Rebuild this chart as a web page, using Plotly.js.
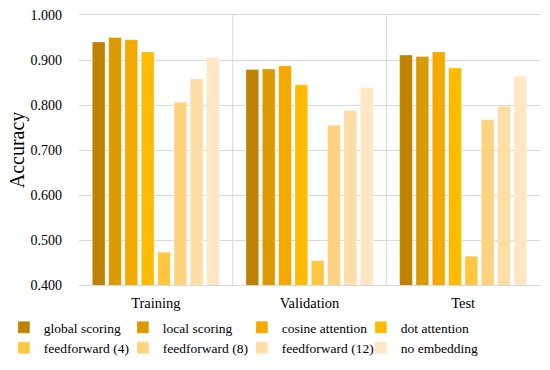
<!DOCTYPE html>
<html>
<head>
<meta charset="utf-8">
<script src="https://cdn.plot.ly/plotly-3.0.1.min.js"></script>
<style>html,body{margin:0;padding:0;background:#fff;}#chart{width:550px;height:370px;}</style>
</head>
<body>
<div id="chart"></div>
<script>
var categories = ["Training", "Validation", "Test"];
var seriesNames = ["global scoring", "local scoring", "cosine attention", "dot attention",
                   "feedforward (4)", "feedforward (8)", "feedforward (12)", "no embedding"];
var globalScoring   = [0.940, 0.879, 0.911];
var localScoring    = [0.950, 0.880, 0.908];
var cosineAttention = [0.945, 0.887, 0.918];
var dotAttention    = [0.918, 0.845, 0.882];
var feedforward4    = [0.473, 0.454, 0.464];
var feedforward8    = [0.806, 0.755, 0.767];
var feedforward12   = [0.858, 0.788, 0.798];
var noEmbedding     = [0.905, 0.839, 0.864];
var seriesValues = [globalScoring, localScoring, cosineAttention, dotAttention,
                    feedforward4, feedforward8, feedforward12, noEmbedding];
var colors = ["#BF8200", "#DB9A00", "#F2AA00", "#FFBB00", "#FFC640", "#FFD280", "#FFDDA6", "#FFE7C4"];
var yTicks = [0.4, 0.5, 0.6, 0.7, 0.8, 0.9, 1.0];
var yTickLabels = ["0.400", "0.500", "0.600", "0.700", "0.800", "0.900", "1.000"];

var font = "'Liberation Serif', 'Times New Roman', serif";
var traces = seriesNames.map(function (name, i) {
  return {
    type: "bar", name: name, x: categories, y: seriesValues[i],
    marker: {color: colors[i], line: {color: "rgba(255,255,255,0.6)", width: 0.5}},
    hoverinfo: "x+y+name"
  };
});

var layout = {
  width: 550, height: 370,
  margin: {l: 79, r: 10, t: 15, b: 85, autoexpand: false},
  paper_bgcolor: "#fff", plot_bgcolor: "#fff",
  font: {family: font, size: 14, color: "#000"},
  barmode: "group", bargap: 0.15, bargroupgap: 0.22,
  xaxis: {
    type: "category", showgrid: false, zeroline: false, automargin: false,
    showline: true, linecolor: "#d9d9d9", linewidth: 1, mirror: true,
    ticks: "", ticklabelstandoff: 5, tickfont: {family: font, size: 14.5}
  },
  yaxis: {
    range: [0.4, 1.0], tickvals: yTicks, ticktext: yTickLabels, automargin: false,
    showgrid: true, gridcolor: "#d9d9d9", gridwidth: 1, zeroline: false,
    showline: false, ticks: "", ticklen: 0, ticklabelstandoff: 16,
    tickfont: {family: font, size: 14},
    title: {text: "Accuracy", font: {family: font, size: 20}, standoff: 0}
  },
  shapes: [
    {type: "line", xref: "x", yref: "paper", x0: 0.5, x1: 0.5, y0: 0, y1: 1, line: {color: "#d9d9d9", width: 1}},
    {type: "line", xref: "x", yref: "paper", x0: 1.5, x1: 1.5, y0: 0, y1: 1, line: {color: "#d9d9d9", width: 1}}
  ],
  showlegend: true,
  legend: {
    orientation: "h", x: -0.163, xanchor: "left", y: -0.1, yanchor: "top",
    font: {family: font, size: 13.5}, entrywidth: 74, entrywidthmode: "pixels",
    itemwidth: 30, tracegroupgap: 0, traceorder: "normal", bgcolor: "rgba(0,0,0,0)"
  }
};

Plotly.newPlot("chart", traces, layout, {displayModeBar: false, staticPlot: true});
</script>
</body>
</html>
